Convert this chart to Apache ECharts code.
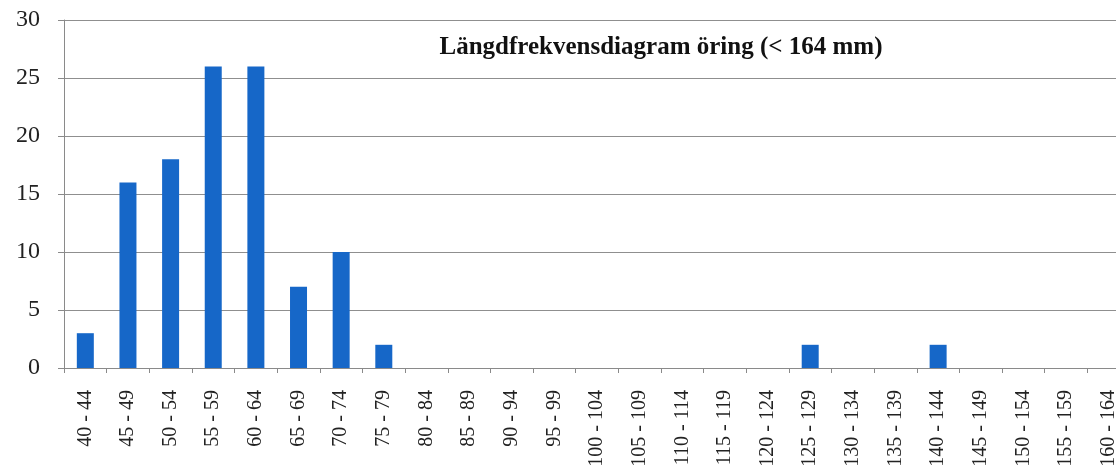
<!DOCTYPE html>
<html>
<head>
<meta charset="utf-8">
<script src="https://cdn.jsdelivr.net/npm/echarts@6/dist/echarts.min.js"></script>
<style>html,body{margin:0;padding:0;background:#fff;}#c{width:1116px;height:475px;}</style>
</head>
<body>
<div id="c"></div>
<script>
const titleText = 'Längdfrekvensdiagram öring (< 164 mm)';
const categories = ['40 - 44','45 - 49','50 - 54','55 - 59','60 - 64','65 - 69','70 - 74','75 - 79','80 - 84','85 - 89','90 - 94','95 - 99','100 - 104','105 - 109','110 - 114','115 - 119','120 - 124','125 - 129','130 - 134','135 - 139','140 - 144','145 - 149','150 - 154','155 - 159','160 - 164'];
const counts = [3,16,18,26,26,7,10,2,0,0,0,0,0,0,0,0,0,2,0,0,2,0,0,0,0];
const yTicks = {min:0, max:30, interval:5};

const chart = echarts.init(document.getElementById('c'), null, {renderer:'canvas'});
chart.setOption({
  animation:false,
  backgroundColor:'#fff',
  title:{
    text:titleText,
    left:656, top:30, textAlign:'center',
    textStyle:{fontFamily:'Liberation Serif', fontWeight:'bold', fontSize:25, color:'#111'}
  },
  grid:{left:64, width:1066, top:20, height:348, containLabel:false, outerBoundsMode:'none'},
  xAxis:{
    type:'category', data:categories, boundaryGap:true,
    axisLine:{show:true, lineStyle:{color:'#8a8a8a', width:1}},
    axisTick:{show:true, alignWithLabel:false, length:5, lineStyle:{color:'#8a8a8a'}},
    axisLabel:{rotate:90, interval:0, margin:22, fontFamily:'Liberation Serif', fontSize:20, color:'#222'},
    splitLine:{show:false}
  },
  yAxis:{
    type:'value', min:yTicks.min, max:yTicks.max, interval:yTicks.interval,
    axisLine:{show:true, lineStyle:{color:'#8a8a8a', width:1}},
    axisTick:{show:true, length:6, lineStyle:{color:'#8a8a8a'}},
    axisLabel:{margin:24, fontFamily:'Liberation Serif', fontSize:24, color:'#222'},
    splitLine:{show:true, lineStyle:{color:'#8f8f8f', width:1.2}}
  },
  series:[{
    type:'bar', data:counts, barWidth:17,
    itemStyle:{color:'#1667c8'}
  }]
});
</script>
</body>
</html>
